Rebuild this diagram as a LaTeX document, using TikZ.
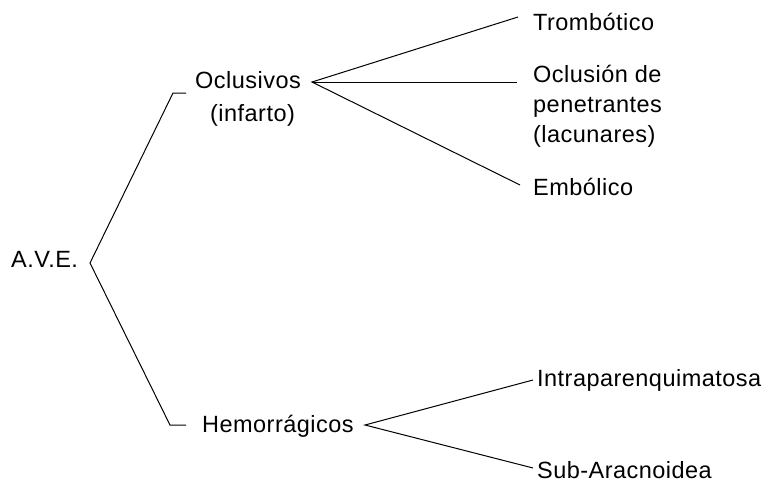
\documentclass[tikz,border=0pt]{standalone}
\usepackage{fontspec}
\setmainfont{Liberation Sans}[LetterSpace=2]
\begin{document}
\begin{tikzpicture}[x=1pt,y=-1pt,
  lbl/.style={inner sep=0pt,anchor=base west,font=\fontsize{23.5}{30}\selectfont},
  conn/.style={line width=1pt,black}]
\path[use as bounding box] (0,0) rectangle (766,482);
% texts
\node[lbl] (ave) at (11,267) {A.V.E.};
\node[lbl] (ocl) at (195,88) {Oclusivos};
\node[lbl] (inf) at (210,121) {(infarto)};
\node[lbl] (hem) at (202,432) {Hemorrágicos};
\node[lbl] (tro) at (533,30) {Trombótico};
\node[lbl] (ocd) at (533,82) {Oclusión de};
\node[lbl] (pen) at (533,112) {penetrantes};
\node[lbl] (lac) at (533,142) {(lacunares)};
\node[lbl] (emb) at (533,195) {Embólico};
\node[lbl] (int) at (537,386) {Intraparenquimatosa};
\node[lbl] (sub) at (537,478) {Sub-Aracnoidea};
% connector points
\coordinate (v0) at (90,263);
\coordinate (t1) at (173,93);
\coordinate (t2) at (186,93);
\coordinate (b1) at (170,425);
\coordinate (b2) at (186,425);
\coordinate (v1) at (312,82);
\coordinate (e1) at (518,17);
\coordinate (e2) at (517,82);
\coordinate (e3) at (520,185);
\coordinate (v2) at (365,425);
\coordinate (f1) at (533,380);
\coordinate (f2) at (533,468);
% connectors
\draw[conn] (t2) -- (t1) -- (v0) -- (b1) -- (b2);
\draw[conn] (e1) -- (v1) -- (e3);
\draw[conn] (v1) -- (e2);
\draw[conn] (f1) -- (v2) -- (f2);
\end{tikzpicture}
\end{document}
